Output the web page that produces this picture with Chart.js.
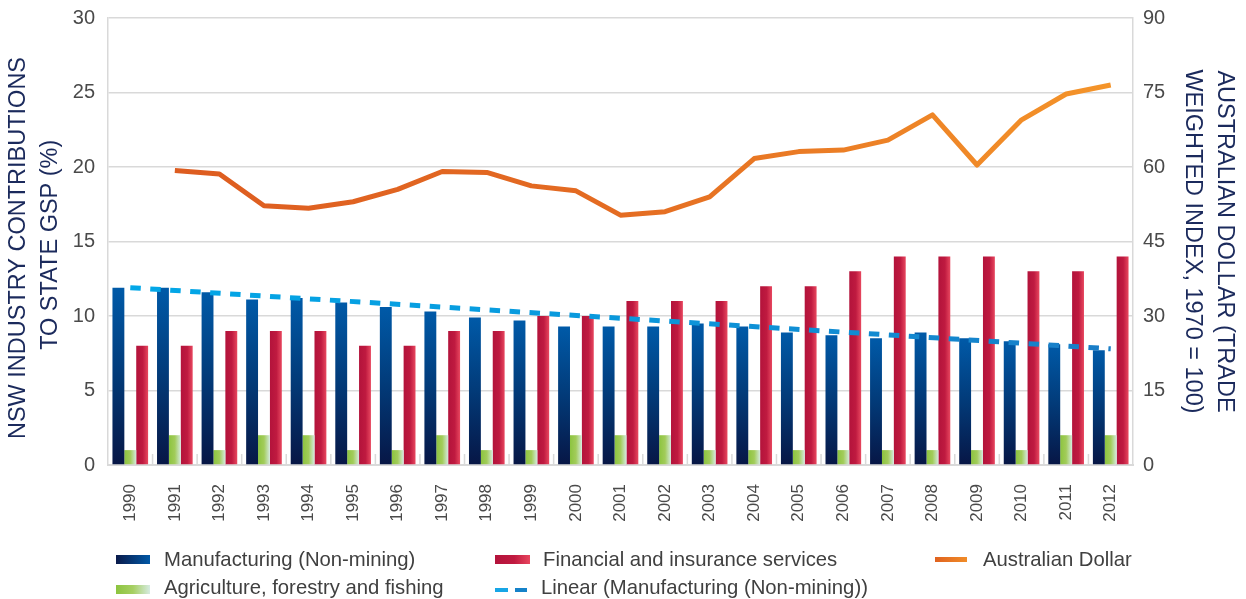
<!DOCTYPE html>
<html><head><meta charset="utf-8">
<script src="https://cdn.jsdelivr.net/npm/chart.js@4.4.1/dist/chart.umd.min.js"></script>
<style>
html,body{margin:0;padding:0;background:#fff;}
#wrap{position:relative;width:1246px;height:599px;overflow:hidden;}
canvas{position:absolute;left:0;top:0;}
.lg{position:absolute;font-family:"Liberation Sans",Arial,sans-serif;font-size:20.3px;color:#404040;white-space:nowrap;line-height:20px;}
.sw{position:absolute;}
</style></head><body>
<div id="wrap">
<canvas id="c" width="1246" height="599"></canvas>
<div class="sw" style="left:116px;top:555px;width:34px;height:9px;background:linear-gradient(90deg,#0a1a4a,#0058a6)"></div>
<div class="lg" style="left:164px;top:549px">Manufacturing (Non-mining)</div>
<div class="sw" style="left:495px;top:555px;width:35px;height:9px;background:linear-gradient(90deg,#b3133b,#c01a40 55%,#e8465e)"></div>
<div class="lg" style="left:543px;top:549px">Financial and insurance services</div>
<div class="sw" style="left:935px;top:557px;width:32px;height:5px;background:linear-gradient(90deg,#e0621f,#f08c28)"></div>
<div class="lg" style="left:983px;top:549px">Australian Dollar</div>
<div class="sw" style="left:116px;top:585px;width:34px;height:9px;background:linear-gradient(90deg,#8cc43f,#a6cf62 50%,#d6ebe2)"></div>
<div class="lg" style="left:164px;top:577px">Agriculture, forestry and fishing</div>
<div class="sw" style="left:495px;top:588px;width:13px;height:4px;background:#17a6e6"></div>
<div class="sw" style="left:515px;top:588px;width:12px;height:4px;background:#1582c9"></div>
<div class="lg" style="left:541px;top:577px">Linear (Manufacturing (Non-mining))</div>
</div>
<script>
const years = ['1990','1991','1992','1993','1994','1995','1996','1997','1998','1999','2000','2001','2002','2003','2004','2005','2006','2007','2008','2009','2010','2011','2012'];
const manufacturing = [11.9,11.9,11.6,11.1,11.2,10.9,10.6,10.3,9.9,9.7,9.3,9.3,9.3,9.5,9.3,8.9,8.7,8.5,8.9,8.5,8.3,8.1,7.7];
const agriculture = [1,2,1,2,2,1,1,2,1,1,2,2,2,1,1,1,1,1,1,1,1,2,2];
const financial = [8,8,9,9,9,8,8,9,9,10,10,11,11,11,12,12,13,14,14,14,13,13,14];
const australianDollar = [null,59.3,58.6,52.2,51.7,53.0,55.5,59.1,58.9,56.2,55.2,50.3,51.0,54.0,61.7,63.1,63.4,65.4,70.5,60.4,69.5,74.7,76.5];
const manufacturingTrend = [11.9,null,null,null,null,null,null,null,null,null,null,null,null,null,null,null,null,null,null,null,null,null,7.8];
const leftAxis = {min:0, max:30, step:5};
const rightAxis = {min:0, max:90, step:15};

const FONT = '"Liberation Sans", Arial, sans-serif';
const CAT_PCT = 0.8, BAR_PCT = 1.0, NBARS = 3;

function barBox(ctx, k){
  const chart = ctx.chart, xs = chart.scales.x;
  if (!xs || !chart.chartArea) return null;
  const c = xs.getPixelForValue(ctx.dataIndex);
  const catW = xs.width / years.length;
  const grp = catW * CAT_PCT, bw = grp / NBARS;
  const l = c - grp/2 + k*bw;
  if (!isFinite(l) || !isFinite(bw) || bw <= 0) return null;
  return {l, r: l + bw};
}
function hGrad(k, stops, fallback){
  return (ctx) => {
    if (ctx.type !== 'data') return fallback;
    const b = barBox(ctx, k); if (!b) return fallback;
    const g = ctx.chart.ctx.createLinearGradient(b.l, 0, b.r, 0);
    stops.forEach(s => g.addColorStop(s[0], s[1]));
    return g;
  };
}
function vGrad(stops, fallback){
  return (ctx) => {
    if (ctx.type !== 'data') return fallback;
    const ys = ctx.chart.scales.y;
    if (!ys || !ctx.chart.chartArea) return fallback;
    const top = ys.getPixelForValue(ctx.raw), bot = ys.getPixelForValue(0);
    if (!isFinite(top) || !isFinite(bot) || top === bot) return fallback;
    const g = ctx.chart.ctx.createLinearGradient(0, bot, 0, top);
    stops.forEach(s => g.addColorStop(s[0], s[1]));
    return g;
  };
}
function lineGrad(stops, fallback){
  return (ctx) => {
    const a = ctx.chart.chartArea;
    if (!a || !isFinite(a.left)) return fallback;
    const g = ctx.chart.ctx.createLinearGradient(a.left, 0, a.right, 0);
    stops.forEach(s => g.addColorStop(s[0], s[1]));
    return g;
  };
}

const innerTicks = {
  id:'innerTicks',
  afterDatasetsDraw(chart){
    const xs = chart.scales.x, a = chart.chartArea, c = chart.ctx;
    c.save(); c.strokeStyle = '#d9d9d9'; c.lineWidth = 1.5; c.beginPath();
    for (let i = 1; i < years.length; i++){
      const x = xs.getPixelForValue(i - 0.5);
      c.moveTo(x, a.bottom); c.lineTo(x, a.bottom - 11);
    }
    c.stroke(); c.restore();
  }
};

new Chart(document.getElementById('c'), {
  type:'bar',
  data:{
    labels: years,
    datasets:[
      {label:'Manufacturing (Non-mining)', data: manufacturing, yAxisID:'y', order:2,
       backgroundColor: vGrad([[0,'#071645'],[0.5,'#023a78'],[1,'#005aa8']], '#023a78'),
       categoryPercentage: CAT_PCT, barPercentage: BAR_PCT, borderWidth:0},
      {label:'Agriculture, forestry and fishing', data: agriculture, yAxisID:'y', order:2,
       backgroundColor: hGrad(1, [[0,'#8cc43f'],[0.5,'#a2cc5a'],[1,'#d4eadf']], '#9cc850'),
       categoryPercentage: CAT_PCT, barPercentage: BAR_PCT, borderWidth:0},
      {label:'Financial and insurance services', data: financial, yAxisID:'y', order:2,
       backgroundColor: hGrad(2, [[0,'#b3133b'],[0.55,'#bf1a40'],[1,'#e8475f']], '#bd173e'),
       categoryPercentage: CAT_PCT, barPercentage: BAR_PCT, borderWidth:0},
      {type:'line', label:'Australian Dollar', data: australianDollar, yAxisID:'y1', order:1,
       borderColor: lineGrad([[0,'#dc5a20'],[0.5,'#e46c22'],[1,'#f5962a']], '#e67022'),
       borderWidth:5, pointRadius:0, tension:0, fill:false, borderJoinStyle:'round'},
      {type:'line', label:'Linear (Manufacturing (Non-mining))', data: manufacturingTrend, yAxisID:'y', order:0,
       borderColor: lineGrad([[0,'#02a8e8'],[0.5,'#0a98dc'],[1,'#1a7cc6']], '#0a98dc'),
       borderWidth:5, borderDash:[10.5,9.5], pointRadius:0, tension:0, fill:false, spanGaps:true}
    ]
  },
  options:{
    responsive:false, animation:false,
    layout:{padding:{top:18, bottom:64, left:0, right:0}},
    plugins:{legend:{display:false}, tooltip:{enabled:false}},
    scales:{
      x:{
        offset:true,
        grid:{display:false},
        border:{display:true, color:'#d9d9d9', width:2},
        ticks:{font:{family:FONT, size:17}, color:'#4a4a4a', minRotation:90, maxRotation:90, padding:11, autoSkip:false},
        afterFit(s){ s.height = 70; s.paddingLeft = 0; s.paddingRight = 0; }
      },
      y:{
        position:'left', min:leftAxis.min, max:leftAxis.max,
        ticks:{stepSize:leftAxis.step, font:{family:FONT, size:20}, color:'#4a4a4a', padding:13},
        grid:{color:'#d9d9d9', lineWidth:1.5, drawTicks:false},
        border:{color:'#d9d9d9', width:1.5},
        title:{display:true, text:['NSW INDUSTRY CONTRIBUTIONS  ','TO STATE GSP (%) '], color:'#1b2a5c',
               font:{family:FONT, size:23.5, lineHeight:1.35}, padding:{top:3, bottom:0}},
        afterFit(s){ s.width = 108; s.paddingTop = 0; s.paddingBottom = 0; }
      },
      y1:{
        position:'right', min:rightAxis.min, max:rightAxis.max,
        ticks:{stepSize:rightAxis.step, font:{family:FONT, size:20}, color:'#4a4a4a', padding:10},
        grid:{drawOnChartArea:false, drawTicks:false},
        border:{color:'#d9d9d9', width:1.5},
        title:{display:true, text:['AUSTRALIAN DOLLAR (TRADE','WEIGHTED INDEX, 1970 = 100)'], color:'#1b2a5c',
               font:{family:FONT, size:23.5, lineHeight:1.35}, padding:{top:6, bottom:0}},
        afterFit(s){ s.width = 113; s.paddingTop = 0; s.paddingBottom = 0; }
      }
    }
  },
  plugins:[innerTicks]
});
</script>
</body></html>
